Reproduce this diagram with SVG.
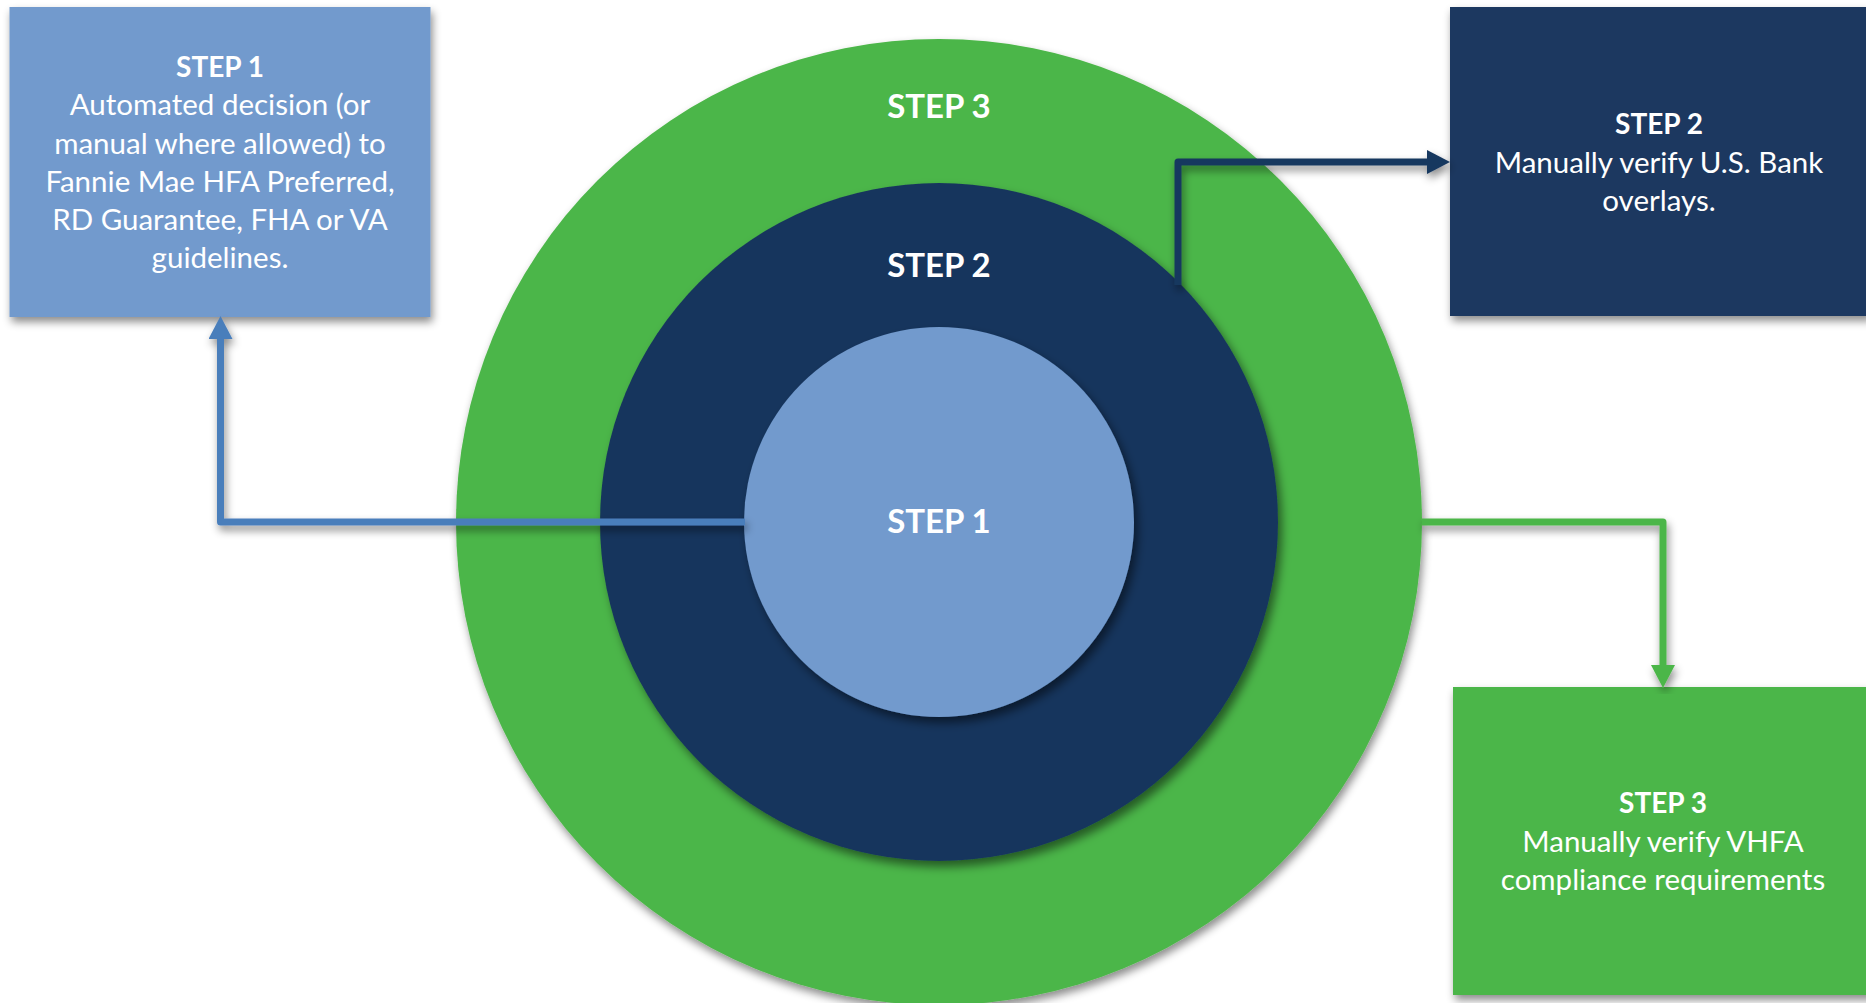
<svg xmlns="http://www.w3.org/2000/svg" width="1866" height="1003" viewBox="0 0 1866 1003">
<style>
text{font-family:Lato,"Open Sans","Liberation Sans",sans-serif;fill:#ffffff;text-anchor:middle}
.t{font-weight:bold;font-size:28px}
.b{font-size:29.5px}
.c{font-weight:bold;font-size:33px}
.ln{fill:none;stroke-width:7;stroke-linejoin:round}
</style>
<defs>
<filter id="sh" x="-20%" y="-20%" width="140%" height="140%">
<feDropShadow dx="2" dy="5" stdDeviation="4" flood-color="#000000" flood-opacity="0.45"/>
</filter>
<filter id="shc" x="-20%" y="-20%" width="140%" height="140%">
<feDropShadow dx="4" dy="6" stdDeviation="5" flood-color="#000000" flood-opacity="0.5"/>
</filter>
<marker id="aBlue" markerUnits="userSpaceOnUse" markerWidth="24" markerHeight="24" refX="0" refY="12" orient="auto"><path d="M0,0 L23,12 L0,24 z" fill="#4a7ebb"/></marker>
<marker id="aNavy" markerUnits="userSpaceOnUse" markerWidth="24" markerHeight="24" refX="0" refY="12" orient="auto"><path d="M0,0 L23,12 L0,24 z" fill="#17375e"/></marker>
<marker id="aGreen" markerUnits="userSpaceOnUse" markerWidth="24" markerHeight="24" refX="0" refY="12" orient="auto"><path d="M0,0 L23,12 L0,24 z" fill="#4cb648"/></marker>
</defs>
<rect width="1866" height="1003" fill="#ffffff"/>
<g id="ring3">
<circle cx="939" cy="522" r="483" fill="#4cb648" filter="url(#sh)"/>
<text class="c" x="939" y="118">STEP 3</text>
</g>
<g id="ring2">
<circle cx="939" cy="522" r="339" fill="#17365d" filter="url(#shc)"/>
<text class="c" x="939" y="277">STEP 2</text>
</g>
<g id="ring1">
<circle cx="939" cy="522" r="195" fill="#729acd" filter="url(#shc)"/>
<text class="c" x="939" y="533">STEP 1</text>
</g>
<g id="box1">
<rect x="9.5" y="7" width="421" height="310" fill="#729acd" filter="url(#sh)"/>
<text class="t" x="220" y="77">STEP 1</text>
<text class="b" x="220" y="115">Automated decision (or</text>
<text class="b" x="220" y="154">manual where allowed) to</text>
<text class="b" x="220" y="192">Fannie Mae HFA Preferred,</text>
<text class="b" x="220" y="230">RD Guarantee, FHA or VA</text>
<text class="b" x="220" y="268">guidelines.</text>
</g>
<g id="box2">
<rect x="1450" y="7" width="420" height="309" fill="#1a3860" filter="url(#sh)"/>
<text class="t" x="1659" y="134">STEP 2</text>
<text class="b" x="1659" y="173">Manually verify U.S. Bank</text>
<text class="b" x="1659" y="211">overlays.</text>
</g>
<g id="box3">
<rect x="1453" y="687" width="420" height="308" fill="#4cb648" filter="url(#sh)"/>
<text class="t" x="1663" y="813">STEP 3</text>
<text class="b" x="1663" y="852">Manually verify VHFA</text>
<text class="b" x="1663" y="890">compliance requirements</text>
</g>
<g id="connectors">
<path class="ln" d="M745,522 H220.5 V339" stroke="#4a7ebb" marker-end="url(#aBlue)" filter="url(#sh)"/>
<path class="ln" d="M1178,285 V162 H1427" stroke="#17375e" marker-end="url(#aNavy)" filter="url(#sh)"/>
<path class="ln" d="M1422,522 H1663 V665" stroke="#4cb648" marker-end="url(#aGreen)" filter="url(#sh)"/>
</g>
</svg>
